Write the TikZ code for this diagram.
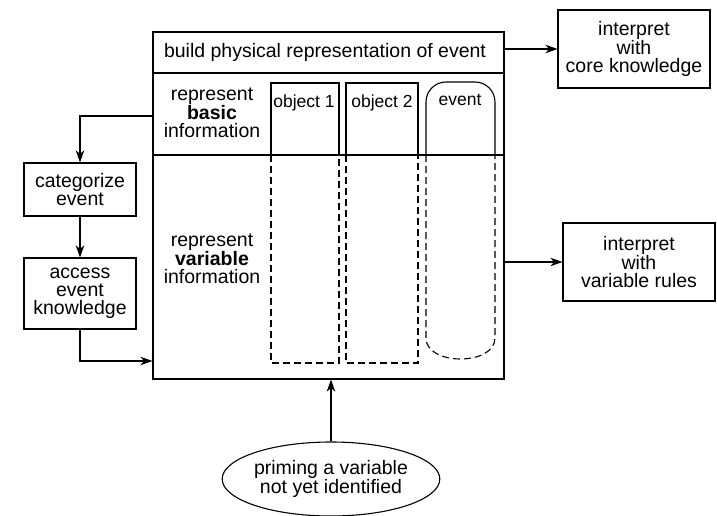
\documentclass[tikz,border=0pt]{standalone}
\usepackage{fontspec}
\setmainfont{Liberation Sans}
\usetikzlibrary{arrows.meta,shapes.geometric}
\begin{document}
\begin{tikzpicture}[x=1pt,y=1pt,
  line width=1.1pt,
  txt/.style={font=\fontsize{19.5}{18}\selectfont, align=center, inner sep=0pt},
  coltxt/.style={font=\fontsize{17.5}{17}\selectfont, inner sep=0pt},
  procbox/.style={draw, txt, minimum width=112pt},
  outbox/.style={draw, txt, minimum width=152pt, minimum height=78pt},
  arr/.style={-{Stealth[length=12pt,width=8.5pt,inset=3.5pt]}},
  dsh/.style={dash pattern=on 7pt off 4pt}]
\useasboundingbox (0,0) rectangle (717,-516);

% main frame
\node[draw, minimum width=351pt, minimum height=347pt, inner sep=0pt] (main) at (328.5,-205.5) {};
\draw (main.west |- 0,-73) -- (main.east |- 0,-73);
\draw (main.west |- 0,-155) -- (main.east |- 0,-155);

\node[txt] (title) at (325,-52) {build physical representation of event};
\node[txt] (basic) at (212,-113) {represent\\\textbf{basic}\\information};
\node[txt] (variable) at (212,-259) {represent\\\textbf{variable}\\information};

% object and event columns
\draw (271,-155) -- (271,-83) -- (339,-83) -- (339,-155);
\draw[dsh] (271,-155) -- (271,-363) -- (339,-363) -- (339,-155);
\draw (346,-155) -- (346,-83) -- (418,-83) -- (418,-155);
\draw[dsh] (346,-155) -- (346,-363) -- (418,-363) -- (418,-155);
\draw[rounded corners=20pt] (426,-155) -- (426,-82) -- (495,-82) -- (495,-155);
\draw[dsh] (426,-155) -- (426,-338) .. controls (426,-366) and (495,-366) .. (495,-338) -- (495,-155);
\node[coltxt] (obj1) at (304,-103) {object 1};
\node[coltxt] (obj2) at (382,-103) {object 2};
\node[coltxt] (evt) at (460,-100) {event};

% left side processes
\node[procbox, minimum height=53pt] (cat) at (80,-189.5) {categorize\\event};
\node[procbox, minimum height=71pt] (acc) at (80,-293.5) {access\\event\\knowledge};

% interpretation boxes
\node[outbox] (core) at (634,-49) {interpret\\with\\core knowledge};
\node[outbox] (varrules) at (639,-262) {interpret\\with\\variable rules};

% priming
\node[draw, ellipse, txt, minimum width=172pt, minimum height=74pt] (prime) at (331,-479) {priming a variable\\not yet identified};

% connectors
\draw[arr] (main.west |- 0,-116) -| (cat.north);
\draw[arr] (cat.south) -- (acc.north);
\draw[arr] (acc.south) |- (main.west |- 0,-361);
\draw[arr] (main.east |- core.west) -- (core.west);
\draw[arr] (main.east |- varrules.west) -- (varrules.west);
\draw[arr] (prime.north) -- (main.south -| prime.north);
\end{tikzpicture}
\end{document}
